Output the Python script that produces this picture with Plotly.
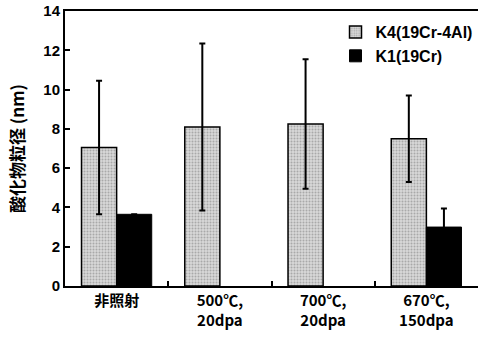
import plotly.graph_objects as go

categories = ["非照射", "500℃,<br>20dpa", "700℃,<br>20dpa", "670℃,<br>150dpa"]
k4_values = [7.05, 8.1, 8.25, 7.5]
k4_errors = [3.4, 4.25, 3.3, 2.2]
k1_values = [3.65, None, None, 3.0]
k1_errors = [0, 0, 0, 0.95]
y_ticks = [0, 2, 4, 6, 8, 10, 12, 14]

font_main = "Liberation Sans, Arial, sans-serif"
font_cjk = "Noto Sans CJK JP, Liberation Sans, sans-serif"

fig = go.Figure()
fig.add_trace(go.Bar(
    name="<b>K4(19Cr-4Al)</b>", x=categories, y=k4_values,
    marker=dict(color="#cfcfcf", line=dict(color="black", width=1.5),
                pattern=dict(shape=".", fgcolor="#7a7a7a", bgcolor="#d8d8d8", size=3, solidity=0.35)),
    error_y=dict(type="data", array=k4_errors, visible=True, color="black", thickness=2, width=3),
))
fig.add_trace(go.Bar(
    name="<b>K1(19Cr)</b>", x=categories, y=k1_values,
    marker=dict(color="black", line=dict(color="black", width=1)),
    error_y=dict(type="data", array=k1_errors, visible=True, color="black", thickness=2, width=3),
))

fig.update_layout(
    width=478, height=349,
    margin=dict(l=65, r=0, t=11, b=63, autoexpand=False),
    paper_bgcolor="white", plot_bgcolor="white",
    barmode="group", bargap=0.32, bargroupgap=0,
    showlegend=True,
    legend=dict(x=0.655, y=0.985, xanchor="left", yanchor="top",
                font=dict(family=font_main, size=16, color="black"),
                bgcolor="rgba(0,0,0,0)", itemwidth=30, tracegroupgap=0),
    font=dict(family=font_main, color="black"),
)
fig.update_xaxes(
    type="category", showline=True, linecolor="black", linewidth=2, mirror=True,
    ticks="inside", tickson="boundaries", ticklen=5, tickcolor="black", tickwidth=1.5,
    tickmode="array", tickvals=categories, ticktext=["<b>" + c + "</b>" for c in categories],
    tickfont=dict(family=font_cjk, size=15, color="black"),
    showgrid=False, automargin=False,
)
fig.update_yaxes(
    range=[0, 14], tickvals=y_ticks, ticktext=["<b>%d</b>" % v for v in y_ticks],
    showline=True, linecolor="black", linewidth=2,
    ticks="inside", ticklen=5, tickcolor="black", tickwidth=1.5,
    tickfont=dict(family=font_main, size=15, color="black"),
    showgrid=False, zeroline=False, automargin=False,
    title=dict(text="<b>酸化物粒径 (nm)</b>", font=dict(family=font_cjk, size=17, color="black"), standoff=14),
)

fig.write_html("out.html", config={"displayModeBar": False},
               post_script="document.body.style.margin='0';")
